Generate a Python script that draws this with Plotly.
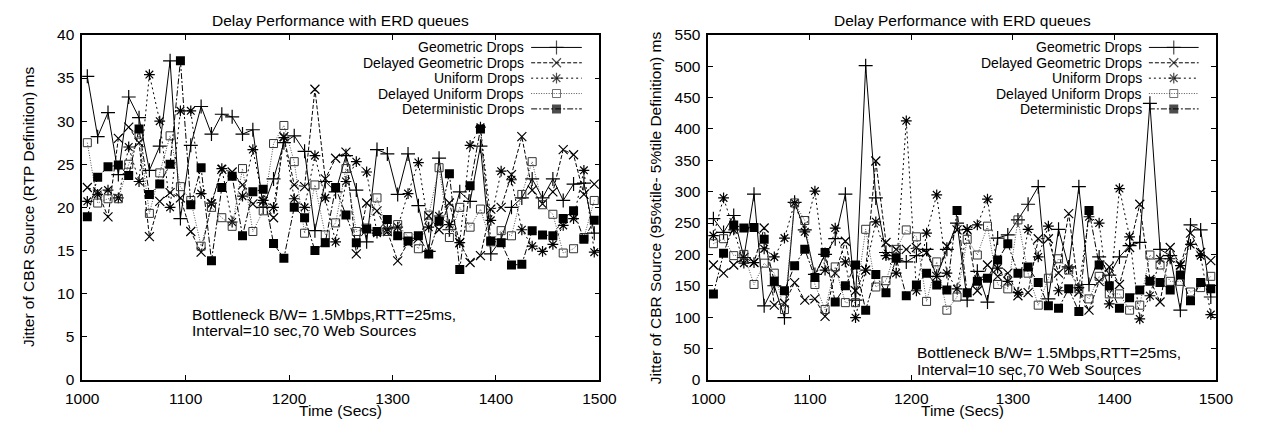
import plotly.graph_objects as go

# ---------------- data ----------------
times = list(range(1005, 1500, 10))

series_names = ["Geometric Drops", "Delayed Geometric Drops", "Uniform Drops",
                "Delayed Uniform Drops", "Deterministic Drops"]

# Left panel: jitter (RTP definition), ms
L_geo = [35.2, 28.2, 31.0, 23.8, 32.8, 30.4, 24.3, 27.1, 37.0, 18.7,
         27.2, 31.7, 28.5, 30.8, 30.5, 28.5, 29.0, 20.0, 23.3, 27.5,
         28.3, 26.5, 17.3, 23.0, 21.8, 26.0, 22.0, 16.0, 26.7, 26.2,
         21.5, 26.2, 20.2, 14.9, 25.7, 17.4, 21.8, 20.7, 27.1, 14.6,
         16.3, 20.0, 21.1, 23.3, 21.1, 23.3, 20.8, 22.7, 22.8, 17.0]
L_dgeo = [22.3, 21.8, 18.9, 28.0, 29.3, 27.5, 16.6, 20.7, 21.7, 21.1,
          17.2, 14.8, 20.4, 24.4, 24.1, 22.6, 20.4, 20.7, 18.8, 28.2,
          22.6, 22.4, 33.7, 23.3, 25.7, 26.4, 14.6, 20.5, 19.6, 17.2,
          13.8, 15.9, 16.4, 19.0, 17.4, 20.5, 15.9, 13.6, 14.4, 19.8,
          20.0, 23.8, 28.2, 22.0, 20.4, 21.8, 26.7, 26.1, 21.5, 22.7]
L_uni = [20.7, 21.5, 22.0, 21.1, 27.0, 23.0, 35.4, 30.0, 20.0, 31.2,
         31.2, 21.6, 20.5, 24.5, 18.3, 21.3, 26.7, 20.8, 20.0, 28.1,
         21.0, 20.0, 26.0, 21.1, 16.0, 23.0, 25.3, 24.1, 17.0, 17.5,
         17.7, 21.6, 25.2, 17.7, 19.0, 18.0, 15.9, 27.2, 29.3, 18.5,
         24.2, 23.2, 17.4, 15.5, 14.9, 15.7, 17.9, 18.7, 24.3, 14.8]
L_duni = [27.5, 20.5, 21.0, 21.0, 25.0, 28.5, 19.3, 24.0, 28.3, 22.4,
          20.8, 15.5, 20.0, 18.8, 17.8, 24.5, 17.2, 19.6, 27.4, 29.5,
          25.3, 17.0, 22.6, 16.8, 18.2, 24.5, 17.2, 17.6, 21.1, 17.2,
          18.0, 16.6, 15.2, 19.1, 24.6, 16.5, 20.0, 17.7, 19.8, 16.0,
          17.3, 16.7, 21.5, 25.3, 20.3, 19.2, 14.7, 15.2, 16.5, 20.8]
L_det = [18.9, 23.5, 24.7, 24.9, 23.7, 29.1, 21.5, 22.7, 25.0, 37.0,
         20.3, 24.6, 13.8, 22.3, 23.6, 16.7, 21.8, 22.1, 15.8, 14.1,
         20.0, 18.8, 15.0, 15.9, 22.3, 19.1, 15.9, 17.5, 17.2, 18.6,
         16.7, 16.1, 16.7, 14.6, 18.4, 23.9, 12.8, 22.5, 29.1, 16.1,
         15.9, 13.3, 13.4, 17.3, 16.8, 16.7, 18.7, 19.6, 16.3, 18.5]

# Right panel: jitter (95%tile - 5%tile definition), ms
R_geo = [257, 235, 262, 195, 296, 118, 150, 99, 283, 239,
         168, 200, 225, 296, 127, 501, 290, 203, 193, 188,
         198, 208, 165, 208, 250, 127, 173, 124, 226, 231,
         255, 280, 308, 129, 240, 180, 308, 152, 196, 167,
         196, 214, 219, 441, 208, 198, 111, 247, 239, 132]
R_dgeo = [183, 170, 183, 195, 187, 242, 119, 122, 155, 127,
          129, 101, 170, 221, 142, 175, 349, 219, 208, 208,
          211, 203, 165, 213, 239, 239, 142, 183, 165, 170,
          134, 139, 225, 225, 170, 265, 140, 111, 157, 180,
          152, 211, 280, 160, 124, 211, 183, 234, 203, 190]
R_uni = [230, 290, 239, 186, 187, 209, 196, 226, 282, 236,
         301, 175, 242, 188, 99, 175, 252, 198, 170, 413,
         142, 234, 295, 170, 145, 240, 247, 288, 178, 157,
         139, 240, 196, 245, 142, 178, 147, 260, 250, 121,
         305, 228, 97, 134, 193, 193, 182, 216, 198, 104]
R_duni = [217, 225, 198, 200, 152, 186, 170, 112, 282, 254,
          152, 112, 180, 123, 123, 240, 148, 158, 208, 239,
          228, 125, 188, 111, 132, 224, 199, 245, 152, 145,
          255, 170, 119, 162, 193, 175, 145, 129, 165, 137,
          137, 111, 119, 199, 183, 157, 157, 140, 147, 165]
R_det = [137, 202, 247, 242, 243, 224, 157, 142, 182, 208,
         163, 203, 124, 150, 183, 111, 168, 139, 194, 134,
         151, 170, 151, 143, 270, 139, 157, 162, 191, 217,
         170, 180, 155, 118, 114, 145, 109, 270, 183, 150,
         114, 131, 143, 157, 155, 143, 167, 126, 155, 145]

left_values = [L_geo, L_dgeo, L_uni, L_duni, L_det]
right_values = [R_geo, R_dgeo, R_uni, R_duni, R_det]

x_ticks = [1000, 1100, 1200, 1300, 1400, 1500]
left_yticks = list(range(0, 41, 5))
right_yticks = list(range(0, 551, 50))

title_text = "Delay Performance with ERD queues"
xlabel = "Time (Secs)"
left_ylabel = "Jitter of CBR Source (RTP Definition) ms"
right_ylabel = "Jitter of CBR Source (95%tile- 5%tile Definition) ms"
note1 = "Bottleneck B/W= 1.5Mbps,RTT=25ms,"
note2 = "Interval=10 sec,70 Web Sources"

# ---------------- styles ----------------
FONT = "Liberation Sans, Arial, Helvetica, sans-serif"
FS = 15.5
KEY_FS = 14
styles = [
    dict(dash="solid", lcolor="black", symbol="cross-thin", size=10, mcolor="black", mlw=1.2),
    dict(dash="4px,2px", lcolor="black", symbol="x-thin", size=9, mcolor="black", mlw=1.2),
    dict(dash="2px,3px", lcolor="black", symbol="asterisk", size=9, mcolor="black", mlw=1.2),
    dict(dash="1px,1.5px", lcolor="#555555", symbol="square-open", size=8, mcolor="#333333", mlw=1),
    dict(dash="6px,2px,2px,2px", lcolor="black", symbol="square", size=9, mcolor="black", mlw=0),
]

W, H = 1265, 431
L_px = (67, 599)
R_px = (711, 1233)
top_px, bot_px = 27, 386
PH = bot_px - top_px

def xd(a, b):
    return [a / W, b / W]

ydom = [(H - bot_px) / H, (H - top_px) / H]

fig = go.Figure()

def add_series(values, xa, ya):
    for name, vals, st in zip(series_names, values, styles):
        marker = dict(symbol=st["symbol"], size=st["size"], color=st["mcolor"],
                      line=dict(color=st["mcolor"], width=st["mlw"]))
        fig.add_trace(go.Scatter(
            x=times, y=vals, mode="lines+markers", name=name, showlegend=False,
            line=dict(color=st["lcolor"], width=1, dash=st["dash"]),
            marker=marker, xaxis=xa, yaxis=ya, cliponaxis=True))

add_series(left_values, "x", "y")
add_series(right_values, "x2", "y2")

# manual gnuplot-style key (text right-aligned, sample on the right)
key_rows = [(bot_px - p) / PH for p in (40, 56, 72, 88, 104)]
key_x = [0.868, 0.917, 0.966]
for xa, ya, xref in (("x3", "y3", "x"), ("x4", "y4", "x2")):
    yref = "y" if xref == "x" else "y2"
    for name, st, ky in zip(series_names, styles, key_rows):
        fig.add_trace(go.Scatter(
            x=key_x, y=[ky, ky, ky], mode="lines+markers", showlegend=False,
            line=dict(color=st["lcolor"], width=1, dash=st["dash"]),
            marker=dict(symbol=st["symbol"], size=[0, st["size"], 0], color=st["mcolor"],
                        line=dict(color=st["mcolor"], width=st["mlw"])),
            xaxis=xa, yaxis=ya, hoverinfo="skip"))
        fig.add_annotation(text=name, xref=f"{xref} domain", yref=f"{yref} domain",
                           x=0.859, y=ky, xanchor="right", yanchor="middle",
                           showarrow=False, font=dict(family=FONT, size=KEY_FS, color="black"))

axis_common = dict(showgrid=False, zeroline=False, showline=True, linecolor="black",
                   linewidth=1.5, ticks="inside", ticklen=5, tickwidth=1, tickcolor="black",
                   mirror="allticks", tickfont=dict(family=FONT, size=FS, color="black"))

fig.update_layout(
    width=W, height=H, margin=dict(l=0, r=0, t=0, b=0),
    paper_bgcolor="white", plot_bgcolor="white", showlegend=False,
    xaxis=dict(domain=xd(*L_px), range=[1000, 1500], tickvals=x_ticks, anchor="y",
               ticklabelstandoff=4, **axis_common),
    yaxis=dict(domain=ydom, range=[0, 40], tickvals=left_yticks, anchor="x",
               ticklabelstandoff=3, **axis_common),
    xaxis2=dict(domain=xd(*R_px), range=[1000, 1500], tickvals=x_ticks, anchor="y2",
                ticklabelstandoff=4, **axis_common),
    yaxis2=dict(domain=ydom, range=[0, 550], tickvals=right_yticks, anchor="x2",
                ticklabelstandoff=3, **axis_common),
    xaxis3=dict(overlaying="x", range=[0, 1], visible=False, fixedrange=True),
    yaxis3=dict(overlaying="y", range=[0, 1], visible=False, fixedrange=True),
    xaxis4=dict(overlaying="x2", range=[0, 1], visible=False, fixedrange=True),
    yaxis4=dict(overlaying="y2", range=[0, 1], visible=False, fixedrange=True),
)

def ann(text, x, y, **kw):
    d = dict(text=text, x=x, y=y, showarrow=False,
             font=dict(family=FONT, size=FS, color="black"))
    d.update(kw)
    fig.add_annotation(**d)

# titles
for a, b in (L_px, R_px):
    ann(title_text, (a + b) / 2 / W, (H - 12) / H, xref="paper", yref="paper",
        xanchor="center", yanchor="middle")
    ann(xlabel, (a + b) / 2 / W, (H - 418) / H, xref="paper", yref="paper",
        xanchor="center", yanchor="middle")
# y titles
ymid = (H - (top_px + bot_px) / 2) / H
ann(left_ylabel, 12 / W, ymid, xref="paper", yref="paper", xanchor="center",
    yanchor="middle", textangle=-90)
ann(right_ylabel, 657 / W, ymid, xref="paper", yref="paper", xanchor="center",
    yanchor="middle", textangle=-90)
# notes
ann(note1, 0.2086, (bot_px - 318) / PH, xref="x domain", yref="y domain",
    xanchor="left", yanchor="middle")
ann(note2, 0.2086, (bot_px - 335) / PH, xref="x domain", yref="y domain",
    xanchor="left", yanchor="middle")
ann(note1, 0.408, (bot_px - 358) / PH, xref="x2 domain", yref="y2 domain",
    xanchor="left", yanchor="middle")
ann(note2, 0.408, (bot_px - 375) / PH, xref="x2 domain", yref="y2 domain",
    xanchor="left", yanchor="middle")

fig.write_html("out.html")
